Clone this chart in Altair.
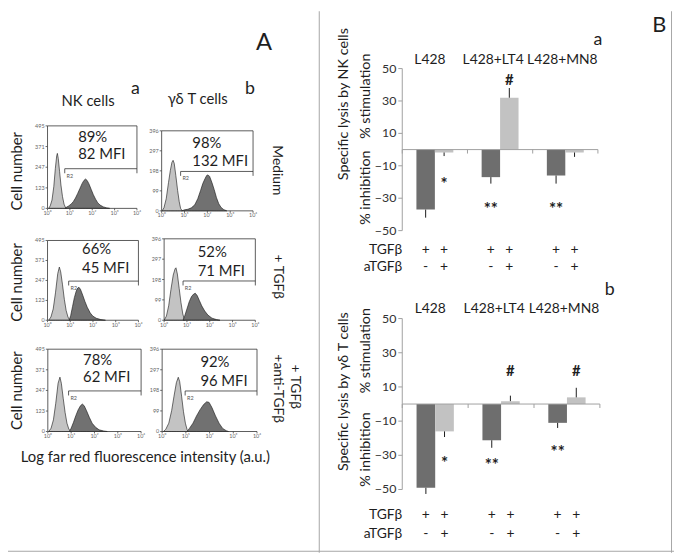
import altair as alt
import pandas as pd

FONT = "Lato"
TXT = "#1e1e1e"
W, H = 674, 548

# ---------------- Panel A: flow cytometry histograms (log10 intensity, cell count)
NK_MEDIUM_CTRL = [(0.05, 0), (0.12, 15), (0.2, 50), (0.28, 130), (0.35, 240), (0.41, 315), (0.44, 330),
                  (0.48, 300), (0.54, 220), (0.6, 140), (0.67, 70), (0.74, 25), (0.8, 6), (0.86, 0)]
NK_MEDIUM_STAIN = [(0.78, 0), (0.86, 8), (0.95, 15), (1.05, 25), (1.15, 40), (1.25, 62), (1.35, 90),
                   (1.45, 120), (1.55, 150), (1.63, 168), (1.7, 176), (1.77, 168), (1.85, 148), (1.95, 115),
                   (2.05, 82), (2.15, 55), (2.25, 33), (2.35, 20), (2.5, 9), (2.65, 3), (2.78, 0)]
GD_MEDIUM_CTRL = [(0.02, 0), (0.1, 15), (0.2, 60), (0.3, 140), (0.38, 200), (0.45, 240), (0.5, 250),
                  (0.55, 235), (0.62, 175), (0.7, 100), (0.77, 45), (0.83, 12), (0.9, 0)]
GD_MEDIUM_STAIN = [(0.88, 0), (1.0, 5), (1.15, 8), (1.3, 15), (1.45, 30), (1.58, 60), (1.7, 100),
                   (1.8, 135), (1.9, 160), (1.97, 175), (2.03, 178), (2.1, 170), (2.2, 140), (2.3, 105),
                   (2.4, 65), (2.5, 35), (2.6, 17), (2.72, 6), (2.85, 0)]
NK_TGF_CTRL = [(0.05, 0), (0.15, 20), (0.25, 70), (0.35, 170), (0.45, 290), (0.52, 330), (0.58, 300),
               (0.66, 220), (0.74, 130), (0.82, 60), (0.9, 20), (0.98, 0)]
NK_TGF_STAIN = [(0.95, 0), (1.02, 30), (1.1, 85), (1.18, 140), (1.26, 180), (1.33, 200), (1.38, 205),
                (1.45, 192), (1.55, 155), (1.65, 115), (1.75, 80), (1.88, 45), (2.0, 25), (2.15, 12),
                (2.35, 4), (2.55, 0)]
GD_TGF_CTRL = [(0.0, 0), (0.1, 20), (0.2, 70), (0.3, 150), (0.4, 220), (0.48, 250), (0.52, 255),
               (0.58, 225), (0.66, 155), (0.74, 85), (0.82, 30), (0.9, 0)]
GD_TGF_STAIN = [(0.83, 0), (0.9, 20), (1.0, 55), (1.1, 90), (1.2, 115), (1.3, 128), (1.37, 131),
                (1.45, 120), (1.55, 95), (1.65, 70), (1.78, 45), (1.92, 25), (2.1, 10), (2.3, 3), (2.45, 0)]
NK_ANTI_CTRL = [(0.04, 0), (0.14, 20), (0.24, 70), (0.34, 170), (0.44, 290), (0.52, 327), (0.58, 290),
                (0.66, 200), (0.74, 115), (0.82, 50), (0.9, 15), (0.99, 0)]
NK_ANTI_STAIN = [(0.92, 0), (1.0, 20), (1.1, 55), (1.2, 95), (1.3, 130), (1.4, 155), (1.48, 165),
                 (1.56, 155), (1.66, 125), (1.78, 85), (1.9, 50), (2.05, 25), (2.2, 10), (2.4, 3), (2.55, 0)]
GD_ANTI_CTRL = [(0.05, 0), (0.15, 10), (0.28, 40), (0.4, 100), (0.5, 170), (0.6, 235), (0.68, 261),
                (0.74, 240), (0.82, 170), (0.9, 95), (0.98, 40), (1.05, 10), (1.1, 0)]
GD_ANTI_STAIN = [(1.05, 0), (1.15, 15), (1.3, 40), (1.45, 75), (1.6, 105), (1.75, 130), (1.88, 143),
                 (1.98, 140), (2.1, 115), (2.25, 75), (2.4, 40), (2.55, 15), (2.7, 4), (2.8, 0)]

NK_YTICKS = [0, 123, 247, 371, 495]
GD_YTICKS = [0, 99, 198, 297, 396]
LOG_TICKS = [0, 1, 2, 3, 4]
LOG_LABELS = ["10⁰", "10¹", "10²", "10³", "10⁴"]
PERCENT = ["89%", "98%", "66%", "52%", "78%", "92%"]
MFI = ["82 MFI", "132 MFI", "45 MFI", "71 MFI", "62 MFI", "96 MFI"]
GATE_LEVEL = [238, 195, 243, 191, 244, 195]
GATE_START = [0.77, 0.83, 0.93, 0.83, 0.89, 0.97]

# ---------------- Panel B: specific lysis (% inhibition / % stimulation)
GROUPS = ["L428", "L428+LT4", "L428+MN8"]
TREATMENTS = ["TGFβ", "TGFβ+aTGFβ"]
TGF_SIGNS = ["+", "+", "+", "+", "+", "+"]
ATGF_SIGNS = ["-", "+", "-", "+", "-", "+"]
NK_LYSIS = [-37, -1.8, -17, 32, -16, -1.8]
NK_ERR = [-42, -4, -21, 38, -21, -4.5]
NK_SIG = ["", "*", "**", "#", "**", ""]
NK_SIG_Y = [0, -18, -33.5, 43, -33.5, 0]
GD_LYSIS = [-49, -16, -21.2, 1.7, -11, 3.9]
GD_ERR = [-52.6, -19.3, -25.6, 4.9, -14, 9.5]
GD_SIG = ["", "*", "**", "#", "**", "#"]
GD_SIG_Y = [0, -31.6, -33, 19, -25, 19]
LYSIS_TICKS = [-50, -30, -10, 10, 30, 50]

# bar slots inside each group band (layout, fraction of the band)
SLOT_LEFT = [0.217, 0.5]
SLOT_RIGHT = [0.5, 0.783]
# small horizontal nudges of the group captions (layout, px)
CAPTION_DX = [-5, -7, -3]

ONE = pd.DataFrame({"k": [0]})
AX = "#444"
BAX = "#a0a0a0"


def label(text, x, y, size, angle=0, align="center", color=TXT, baseline="middle"):
    return alt.Chart(ONE).mark_text(
        text=text, fontSize=size, angle=angle, align=align, baseline=baseline,
        font=FONT, color=color
    ).encode(x=alt.value(x), y=alt.value(y))


def frame_line(x, y, x2, y2, color="#a6a6a6"):
    return alt.Chart(ONE).mark_rule(color=color, strokeWidth=1).encode(
        x=alt.value(x), y=alt.value(y), x2=alt.value(x2), y2=alt.value(y2))


def hist_panel(i, ctrl, stain, ymax, yticks, x0, x1, yb, yt, tx, ty1, ty2):
    xs = alt.Scale(domain=[0, 4], range=[x0, x1], nice=False, zero=False)
    ys = alt.Scale(domain=[0, ymax], range=[yb, yt], nice=False, zero=False)
    dc = pd.DataFrame(ctrl, columns=["logi", "count"])
    ds = pd.DataFrame(stain, columns=["logi", "count"])
    a1 = alt.Chart(dc).mark_area(color="#c3c3c3", stroke="#111", strokeWidth=0.6).encode(
        x=alt.X("logi:Q", scale=xs, axis=None), y=alt.Y("count:Q", scale=ys, axis=None))
    a2 = alt.Chart(ds).mark_area(color="#717171", stroke="#111", strokeWidth=0.6).encode(
        x=alt.X("logi:Q", scale=xs, axis=None), y=alt.Y("count:Q", scale=ys, axis=None))
    lvl, gs = GATE_LEVEL[i], GATE_START[i]
    tick = 0.055 * ymax
    seg = pd.DataFrame({
        "x": [0, 4, gs, gs, 0, 0],
        "x2": [4, 4, 4, gs, 4, 0],
        "y": [ymax, ymax, lvl, lvl, 0, 0],
        "y2": [ymax, lvl - tick, lvl, lvl - tick, 0, ymax],
    })
    segs = alt.Chart(seg).mark_rule(color="#333", strokeWidth=0.8).encode(
        x=alt.X("x:Q", scale=xs, axis=None), x2="x2:Q",
        y=alt.Y("y:Q", scale=ys, axis=None), y2="y2:Q")
    yt_df = pd.DataFrame({"v": yticks})
    xt_df = pd.DataFrame({"v": LOG_TICKS, "lab": LOG_LABELS})
    ytk = alt.Chart(yt_df).mark_rule(color=AX, strokeWidth=0.8).encode(
        x=alt.value(x0 - 2), x2=alt.value(x0), y=alt.Y("v:Q", scale=ys, axis=None))
    ylb = alt.Chart(yt_df).mark_text(align="right", fontSize=5.5, color="#666", font=FONT).encode(
        x=alt.value(x0 - 3), y=alt.Y("v:Q", scale=ys, axis=None), text=alt.Text("v:Q", format="d"))
    xtk = alt.Chart(xt_df).mark_rule(color=AX, strokeWidth=0.8).encode(
        x=alt.X("v:Q", scale=xs, axis=None), y=alt.value(yb), y2=alt.value(yb + 2))
    xlb = alt.Chart(xt_df).mark_text(baseline="top", fontSize=5.5, color="#666", font=FONT).encode(
        x=alt.X("v:Q", scale=xs, axis=None), y=alt.value(yb + 2.5), text="lab:N")
    r2 = alt.Chart(pd.DataFrame({"x": [gs + 0.08], "y": [lvl - 0.085 * ymax], "t": ["R2"]})).mark_text(
        fontSize=5.5, align="left", color="#555", font=FONT).encode(
        x=alt.X("x:Q", scale=xs, axis=None), y=alt.Y("y:Q", scale=ys, axis=None), text="t:N")
    t1 = label(PERCENT[i], tx, ty1, 15, align="left")
    t2 = label(MFI[i], tx, ty2, 15, align="left")
    return alt.layer(a1, a2, segs, ytk, ylb, xtk, xlb, r2, t1, t2)


def bar_panel(vals, errs, sig, sig_y, x_px, y_px, y_zero, label_y, sign_y1, sign_y2):
    gi = [g for g in range(len(GROUPS)) for _ in TREATMENTS]
    ti = [t for _ in GROUPS for t in range(len(TREATMENTS))]
    df = pd.DataFrame({
        "group": [GROUPS[g] for g in gi],
        "treat": [TREATMENTS[t] for t in ti],
        "left": [g + SLOT_LEFT[t] for g, t in zip(gi, ti)],
        "right": [g + SLOT_RIGHT[t] for g, t in zip(gi, ti)],
        "value": vals, "base": [0] * len(vals), "err": errs, "sig": sig, "sig_y": sig_y,
        "tgf": TGF_SIGNS, "atgf": ATGF_SIGNS,
    })
    df["pos"] = (df["left"] + df["right"]) / 2
    xs = alt.Scale(domain=[0, len(GROUPS)], range=x_px, nice=False, zero=False)
    ys = alt.Scale(domain=[-50, 50], range=y_px, nice=False, zero=False)
    X = lambda f: alt.X(f, scale=xs, axis=None)
    Y = lambda f: alt.Y(f, scale=ys, axis=None)
    bars = alt.Chart(df).mark_bar().encode(
        x=X("left:Q"), x2="right:Q", y=Y("value:Q"), y2="base:Q",
        color=alt.Color("treat:N", scale=alt.Scale(domain=TREATMENTS, range=["#6e6e6e", "#c2c2c2"]),
                        legend=None))
    errbars = alt.Chart(df).mark_rule(color="#1a1a1a", strokeWidth=1).encode(
        x=X("pos:Q"), y=Y("value:Q"), y2="err:Q")
    stars = alt.Chart(df).transform_filter("datum.sig == '*' || datum.sig == '**'").mark_text(
        fontSize=17, font=FONT, color=TXT, fontWeight="bold", dy=6).encode(
        x=X("pos:Q"), y=Y("sig_y:Q"), text="sig:N")
    hashes = alt.Chart(df).transform_filter("datum.sig == '#'").mark_text(
        fontSize=15, font=FONT, color=TXT, fontWeight="bold").encode(
        x=X("pos:Q"), y=Y("sig_y:Q"), text="sig:N")
    row1 = alt.Chart(df).mark_text(fontSize=14, font=FONT, color=TXT).encode(
        x=X("pos:Q"), y=alt.value(sign_y1), text="tgf:N")
    row2 = alt.Chart(df).mark_text(fontSize=14, font=FONT, color=TXT).encode(
        x=X("pos:Q"), y=alt.value(sign_y2), text="atgf:N")
    caps = []
    for g, name in enumerate(GROUPS):
        gdf = pd.DataFrame({"group": [name], "center": [g + 0.5]})
        caps.append(alt.Chart(gdf).mark_text(fontSize=14, font=FONT, color=TXT, dx=CAPTION_DX[g]).encode(
            x=X("center:Q"), y=alt.value(label_y), text="group:N"))
    # axes drawn as marks
    ydf = pd.DataFrame({"v": LYSIS_TICKS})
    ydom = alt.Chart(pd.DataFrame({"lo": [-50], "hi": [50]})).mark_rule(color=BAX).encode(
        x=alt.value(x_px[0]), y=Y("lo:Q"), y2="hi:Q")
    ytk = alt.Chart(ydf).mark_rule(color=BAX).encode(
        x=alt.value(x_px[0] - 4), x2=alt.value(x_px[0]), y=Y("v:Q"))
    ylb = alt.Chart(ydf).mark_text(align="right", fontSize=12.5, font=FONT, color="#333").encode(
        x=alt.value(x_px[0] - 6), y=Y("v:Q"), text=alt.Text("v:Q", format="d"))
    zero = alt.Chart(pd.DataFrame({"a": [0], "b": [len(GROUPS)], "z": [0]})).mark_rule(color=BAX).encode(
        x=X("a:Q"), x2="b:Q", y=Y("z:Q"))
    xtk = alt.Chart(pd.DataFrame({"v": list(range(len(GROUPS) + 1))})).mark_rule(color=BAX).encode(
        x=X("v:Q"), y=alt.value(y_zero), y2=alt.value(y_zero + 4))
    lab1 = label("TGFβ", x_px[0], sign_y1, 14, align="right")
    lab2 = label("aTGFβ", x_px[0], sign_y2, 14, align="right")
    return alt.layer(bars, zero, xtk, ydom, ytk, ylb, errbars, stars, hashes, row1, row2, *caps, lab1, lab2)


panels = [
    hist_panel(0, NK_MEDIUM_CTRL, NK_MEDIUM_STAIN, 495, NK_YTICKS, 40, 130.5, 199.5, 116, 71, 127, 145),
    hist_panel(1, GD_MEDIUM_CTRL, GD_MEDIUM_STAIN, 396, GD_YTICKS, 155.5, 248, 202, 121, 186.5, 133, 151.5),
    hist_panel(2, NK_TGF_CTRL, NK_TGF_STAIN, 495, NK_YTICKS, 40, 132, 312.7, 232, 75, 240.7, 259.7),
    hist_panel(3, GD_TGF_CTRL, GD_TGF_STAIN, 396, GD_YTICKS, 158, 250.3, 312.7, 230.3, 192, 244, 262.5),
    hist_panel(4, NK_ANTI_CTRL, NK_ANTI_STAIN, 495, NK_YTICKS, 40.3, 134.7, 425.3, 342, 76, 352.5, 370.7),
    hist_panel(5, GD_ANTI_CTRL, GD_ANTI_STAIN, 396, GD_YTICKS, 156, 252, 425.3, 342, 194.7, 355, 374),
    bar_panel(NK_LYSIS, NK_ERR, NK_SIG, NK_SIG_Y, [399, 597], [222, 58], 140, 49, 242, 259),
    bar_panel(GD_LYSIS, GD_ERR, GD_SIG, GD_SIG_Y, [399, 599], [484, 311], 397.5, 301, 510, 529),
]

texts = [
    label("A", 259, 32, 24),
    label("NK cells", 81, 91, 15),
    label("a", 129, 79, 18),
    label("γδ  T cells", 192, 89, 15),
    label("b", 245, 79, 18),
    label("Medium", 272, 161, 14, angle=90),
    label("+ TGFβ", 273.7, 268.7, 14, angle=90),
    label("+ TGFβ", 290.3, 380, 14, angle=90),
    label("+anti-TGFβ", 273.7, 382, 14, angle=90),
    label("Cell number", 9, 162, 15, angle=270),
    label("Cell number", 9, 274.5, 15, angle=270),
    label("Cell number", 9, 384, 15, angle=270),
    label("Log far red fluorescence intensity (a.u.)", 139, 451, 15),
    label("B", 659, 14, 22),
    label("a", 597, 29, 18),
    label("b", 609, 282, 18),
    label("Specific lysis by NK cells", 340, 94, 14.5, angle=270),
    label("% stimulation", 362, 86, 14.5, angle=270),
    label("% inhibition", 362, 178.5, 14.5, angle=270),
    label("Specific lysis by γδ T cells", 340, 385, 14.5, angle=270),
    label("% stimulation", 362, 343.5, 14.5, angle=270),
    label("% inhibition", 362, 443.5, 14.5, angle=270),
]

borders = [
    frame_line(315, 0, 315, 548),
    frame_line(671.5, 0, 671.5, 548),
    frame_line(0, 546.5, 674, 546.5),
]

chart = alt.layer(*panels, *texts, *borders).resolve_scale(
    x="independent", y="independent"
).properties(
    width=W, height=H, autosize=alt.AutoSizeParams(type="none"), padding=0
).configure_view(stroke="transparent")

chart.save("out.html", embed_options={"renderer": "svg", "actions": False})
